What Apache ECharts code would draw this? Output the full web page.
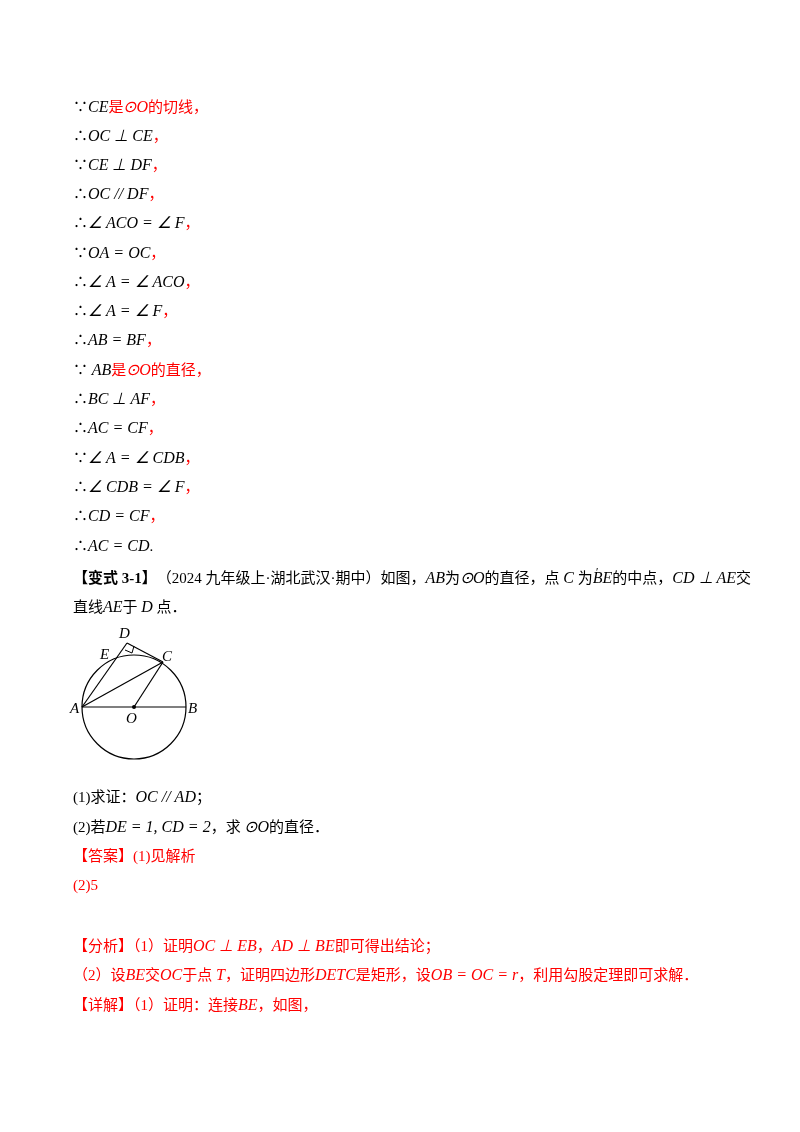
<!DOCTYPE html>
<html>
<head>
<meta charset="UTF-8">
<script src="https://cdn.jsdelivr.net/npm/echarts@6/dist/echarts.min.js"></script>
<style>
  html, body { margin: 0; background: #fff; }
  #page { width: 800px; height: 1132px; }
</style>
</head>
<body>
<div id="page"></div>
<script>
// 文本行：[y, [[文字, 样式], ...]]  样式 k=黑 i=黑斜体 r=红 s=红斜体 b=黑粗
var lines = [
  [107, [['∵', 'k'], ['CE', 'i'], ['是', 'r'], ['⊙O', 's'], ['的切线', 'r'], ['，', 'r']]],
  [136, [['∴', 'k'], ['OC ⊥ CE', 'i'], ['，', 'r']]],
  [165, [['∵', 'k'], ['CE ⊥ DF', 'i'], ['，', 'r']]],
  [194, [['∴', 'k'], ['OC // DF', 'i'], ['，', 'r']]],
  [223, [['∴', 'k'], ['∠ ACO = ∠ F', 'i'], ['，', 'r']]],
  [253, [['∵', 'k'], ['OA = OC', 'i'], ['，', 'r']]],
  [282, [['∴', 'k'], ['∠ A = ∠ ACO', 'i'], ['，', 'r']]],
  [311, [['∴', 'k'], ['∠ A = ∠ F', 'i'], ['，', 'r']]],
  [340, [['∴', 'k'], ['AB = BF', 'i'], ['，', 'r']]],
  [370, [['∵ ', 'k'], ['AB', 'i'], ['是', 'r'], ['⊙O', 's'], ['的直径', 'r'], ['，', 'r']]],
  [399, [['∴', 'k'], ['BC ⊥ AF', 'i'], ['，', 'r']]],
  [428, [['∴', 'k'], ['AC = CF', 'i'], ['，', 'r']]],
  [458, [['∵', 'k'], ['∠ A = ∠ CDB', 'i'], ['，', 'r']]],
  [487, [['∴', 'k'], ['∠ CDB = ∠ F', 'i'], ['，', 'r']]],
  [516, [['∴', 'k'], ['CD = CF', 'i'], ['，', 'r']]],
  [546, [['∴', 'k'], ['AC = CD', 'i'], ['.', 'k']]],
  [578, [['【变式 3-1】', 'b'], ['（2024 九年级上·湖北武汉·期中）如图，', 'k'], ['AB', 'i'], ['为', 'k'], ['⊙O', 'i'], ['的直径，点 ', 'k'], ['C', 'i'], [' 为', 'k'], ['BE', 'i'], ['的中点，', 'k'], ['CD ⊥ AE', 'i'], ['交', 'k']]],
  [607, [['直线', 'k'], ['AE', 'i'], ['于 ', 'k'], ['D', 'i'], [' 点．', 'k']]],
  [797, [['(1)求证：', 'k'], ['OC // AD', 'i'], ['；', 'k']]],
  [827, [['(2)若', 'k'], ['DE = 1, CD = 2', 'i'], ['，求 ', 'k'], ['⊙O', 'i'], ['的直径．', 'k']]],
  [857, [['【答案】(1)见解析', 'r']]],
  [886, [['(2)5', 'r']]],
  [946, [['【分析】（1）证明', 'r'], ['OC ⊥ EB', 's'], ['，', 'r'], ['AD ⊥ BE', 's'], ['即可得出结论；', 'r']]],
  [975, [['（2）设', 'r'], ['BE', 's'], ['交', 'r'], ['OC', 's'], ['于点 ', 'r'], ['T', 's'], ['，证明四边形', 'r'], ['DETC', 's'], ['是矩形，设', 'r'], ['OB = OC = r', 's'], ['，利用勾股定理即可求解．', 'r']]],
  [1005, [['【详解】（1）证明：连接', 'r'], ['BE', 's'], ['，如图，', 'r']]]
];

// 几何图形的点（像素）
var ptA = [82, 707], ptB = [186, 707], ptO = [134, 707];
var ptC = [163, 662], ptD = [127, 643], ptE = [99, 660];
var radius = 52;
var segs = [[ptA, ptB], [ptA, ptD], [ptD, ptC], [ptA, ptC], [ptO, ptC]];
var ptLabels = [['D', 119, 627], ['E', 100, 648], ['C', 162, 650], ['A', 70, 702], ['O', 126, 712], ['B', 188, 702]];

var rich = {
  k: { fontFamily: 'Liberation Serif, Noto Sans CJK SC', fontSize: 15, fill: '#000' },
  i: { fontFamily: 'Liberation Serif', fontStyle: 'italic', fontSize: 16, fill: '#000' },
  r: { fontFamily: 'Liberation Serif, Noto Sans CJK SC', fontSize: 15, fill: '#ff0000' },
  s: { fontFamily: 'Liberation Serif', fontStyle: 'italic', fontSize: 16, fill: '#ff0000' },
  b: { fontFamily: 'Liberation Serif, Noto Sans CJK SC', fontWeight: 'bold', fontSize: 15, fill: '#000' }
};

var elements = [];
lines.forEach(function (ln) {
  var txt = ln[1].map(function (p) { return '{' + p[1] + '|' + p[0] + '}'; }).join('');
  elements.push({ type: 'text', left: 73, top: ln[0] - 7, style: { text: txt, rich: rich, fill: '#000' } });
});
// 弧 BE 上的小记号
elements.push({ type: 'text', x: 596, y: 567, style: { text: '′', fontSize: 11, fill: '#000' } });

elements.push({ type: 'circle', shape: { cx: ptO[0], cy: ptO[1], r: radius }, style: { fill: 'none', stroke: '#000', lineWidth: 1.2 } });
segs.forEach(function (s) {
  elements.push({ type: 'line', shape: { x1: s[0][0], y1: s[0][1], x2: s[1][0], y2: s[1][1] }, style: { stroke: '#000', lineWidth: 1.2 } });
});
// 直角符号
elements.push({ type: 'polyline', shape: { points: [[125, 650], [132, 653], [134, 646]] }, style: { fill: 'none', stroke: '#000', lineWidth: 1 } });
elements.push({ type: 'circle', shape: { cx: ptO[0], cy: ptO[1], r: 2 }, style: { fill: '#000' } });
ptLabels.forEach(function (l) {
  elements.push({ type: 'text', x: l[1], y: l[2], style: { text: l[0], font: 'italic 15px Liberation Serif', fill: '#000' } });
});

var chart = echarts.init(document.getElementById('page'));
chart.setOption({ backgroundColor: '#fff', graphic: { elements: elements } });
</script>
</body>
</html>
